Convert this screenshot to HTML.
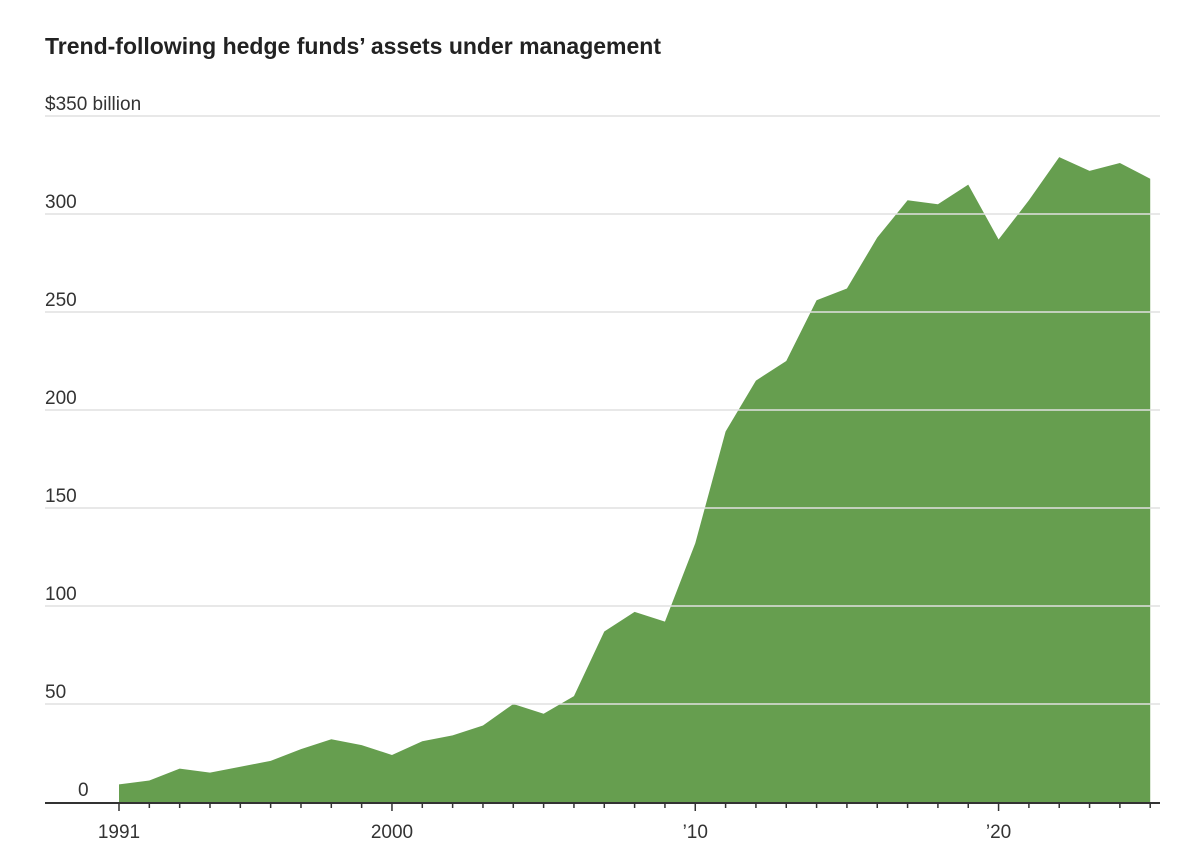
<!DOCTYPE html>
<html><head><meta charset="utf-8"><style>
body{margin:0;background:#fff;font-family:"Liberation Sans",sans-serif;}
svg{display:block}
</style></head><body>
<svg width="1180" height="866" id="c">
<text x="45" y="54" font-size="23" font-weight="bold" fill="#222">Trend-following hedge funds’ assets under management</text>
</svg>
<script>
const years=[1991,1992,1993,1994,1995,1996,1997,1998,1999,2000,2001,2002,2003,2004,2005,2006,2007,2008,2009,2010,2011,2012,2013,2014,2015,2016,2017,2018,2019,2020,2021,2022,2023,2024,2025];
const aum=[9,11,17,15,18,21,27,32,29,24,31,34,39,50,45,54,87,97,92,132,189,215,225,256,262,288,307,305,315,287,307,329,322,326,318];
const yTicks=[0,50,100,150,200,250,300,350];
const yTickLabels=["0","50","100","150","200","250","300","$350 billion"];
const xMajor=[1991,2000,2010,2020];
const xMajorLabels=["1991","2000","’10","’20"];
const NS="http://www.w3.org/2000/svg";
const svg=document.getElementById('c');
const x=v=>119+(v-1991)*30.33;
const y=v=>802-v*1.96;
function mk(t,a){const e=document.createElementNS(NS,t);for(const k in a)e.setAttribute(k,a[k]);svg.appendChild(e);return e;}
let d=`M${x(years[0])},${y(0)}`;
years.forEach((yr,i)=>{d+=` L${x(yr)},${y(aum[i])}`;});
d+=` L${x(years[years.length-1])},${y(0)} Z`;
const area=mk('path',{d:d,fill:'#669e4f'});


yTicks.forEach((t,i)=>{
  if(t>0){const g=mk('line',{x1:45,x2:1160,y1:y(t),y2:y(t),stroke:'#e0e0e0','stroke-width':1.5});
  
  }
  const tx=mk('text',{x:45,y:y(t)-6,'font-size':19,fill:'#333'});
  tx.textContent=yTickLabels[i];
  
  
  if(t===0){tx.setAttribute('x',78);}
  else if(t<350){tx.setAttribute('x',45);}
});
const ax=mk('line',{x1:45,x2:1160,y1:803,y2:803,stroke:'#333','stroke-width':2});


years.forEach(yr=>{
  const maj=xMajor.includes(yr);
  const tk=mk('line',{x1:x(yr),x2:x(yr),y1:803,y2:maj?811:808,stroke:'#333','stroke-width':1.5});
  
  
});
xMajor.forEach((yr,i)=>{
  const tx=mk('text',{x:x(yr),y:838,'font-size':19,fill:'#333','text-anchor':'middle'});
  tx.textContent=xMajorLabels[i];
  
  
});
</script>
</body></html>
